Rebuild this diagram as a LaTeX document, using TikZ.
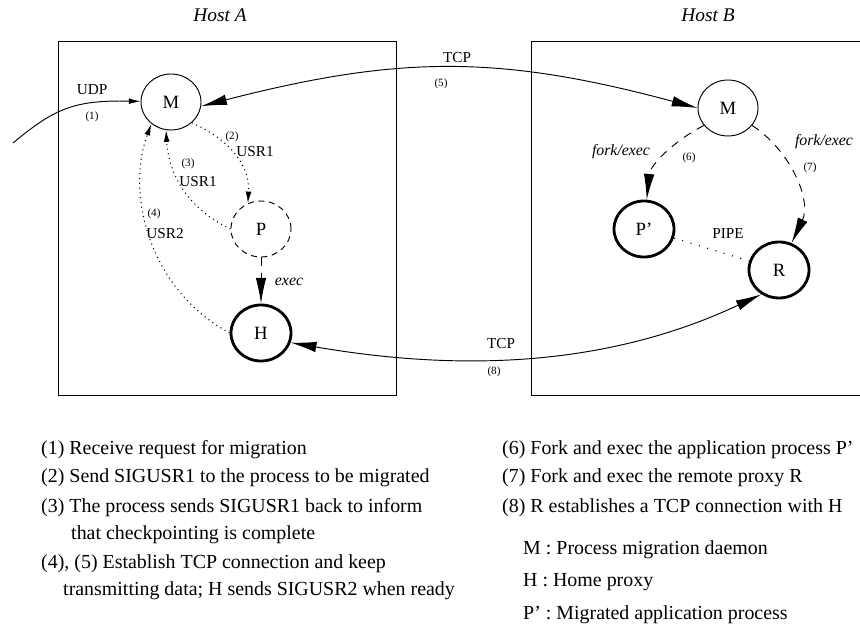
\documentclass[tikz,border=0pt]{standalone}
\usepackage{fontspec}
\setmainfont{Liberation Serif}
\usetikzlibrary{arrows.meta,shapes.geometric}

\begin{document}
\begin{tikzpicture}[x=0.03cm, y=-0.03cm,
    proc/.style={ellipse, draw, minimum width=1.8cm, minimum height=1.68cm, inner sep=0pt, font=\fontsize{16}{18}\selectfont},
    plain/.style={proc, line width=0.8pt},
    heavy/.style={proc, line width=2.4pt},
    ghost/.style={proc, line width=0.8pt, dash pattern=on 5pt off 4pt},
    lbl/.style={font=\fontsize{13}{15}\selectfont},
    num/.style={font=\fontsize{9.5}{11}\selectfont},
    act/.style={font=\fontsize{13.5}{15}\selectfont\itshape},
    host/.style={font=\fontsize{16.5}{18}\selectfont\itshape},
    legend/.style={anchor=base west, inner sep=0pt, font=\fontsize{17}{20}\selectfont},
    bigtip/.tip={Latex[length=22pt,width=9pt]},
    smalltip/.tip={Latex[length=10pt,width=5pt]},
    link/.style={line width=0.8pt},
    signal/.style={line width=0.9pt, dash pattern=on 0.9pt off 3.2pt, -smalltip},
    spawn/.style={line width=0.8pt, dash pattern=on 7pt off 6pt, -bigtip}]
    \useasboundingbox (0,0) rectangle (860,627);
    % Hosts
    \node [host] (hostA) at (220,15) {Host A};
    \node [host] (hostB) at (708,15) {Host B};
    \draw [line width=0.8pt] (58,41) rectangle (396,395);
    \draw [line width=0.8pt] (862,41) -- (531,41) -- (531,395) -- (862,395);
    % Place nodes
    \node [plain] (MA) at (171,102) {M};
    \node [ghost] (PA) at (261,229) {P};
    \node [heavy] (HA) at (261,333) {H};
    \node [plain] (MB) at (728,108) {M};
    \node [heavy] (PB) at (644,229) {P'};
    \node [heavy] (RB) at (779,270) {R};
    \coordinate (udpin) at (13,143);
    % Labels
    \node [lbl] (udplbl) at (92,90) {UDP};
    \node [num] (udpnum) at (92,117) {(1)};
    \node [lbl] (tcpAlbl) at (457,58) {TCP};
    \node [num] (tcpAnum) at (441,84) {(5)};
    \node [num] (usrAnum) at (232,137) {(2)};
    \node [lbl] (usrAlbl) at (255,152) {USR1};
    \node [num] (usrBnum) at (188,164) {(3)};
    \node [lbl] (usrBlbl) at (198,182) {USR1};
    \node [num] (usrCnum) at (154,214) {(4)};
    \node [lbl] (usrClbl) at (165,234) {USR2};
    \node [act] (execlbl) at (289,282) {exec};
    \node [act] (forkAlbl) at (621,152) {fork/exec};
    \node [num] (forkAnum) at (689,158) {(6)};
    \node [act] (forkBlbl) at (824,142) {fork/exec};
    \node [num] (forkBnum) at (810,168) {(7)};
    \node [lbl] (pipelbl) at (728,234) {PIPE};
    \node [lbl] (tcpBlbl) at (501,344) {TCP};
    \node [num] (tcpBnum) at (494,372) {(8)};
    % Connectors
    \draw [link, -smalltip] (udpin) .. controls (55,108) and (75,100) .. (MA);
    \draw [link, bigtip-bigtip] (MA.-8) .. controls (400,55) and (500,55) .. (MB.west);
    \draw [link, bigtip-bigtip] (HA.-18) .. controls (450,370) and (600,370) .. (RB.234);
    \draw [signal] (MA.-45) .. controls (230,140) and (250,165) .. (PA.117);
    \draw [signal] (PA.west) .. controls (180,205) and (168,165) .. (MA.260);
    \draw [signal] (HA.west) .. controls (150,290) and (125,195) .. (MA.228);
    \draw [spawn] (PA) -- (HA);
    \draw [spawn] (MB.216) .. controls (675,140) and (650,165) .. (PB);
    \draw [spawn] (MB.-36) .. controls (790,150) and (812,200) .. (RB.65);
    \draw [line width=0.9pt, dash pattern=on 0.9pt off 6.5pt] (PB) -- (RB);
    % Legend
    \node [legend] (leg1) at (41,455) {(1) Receive request for migration};
    \node [legend] (leg2) at (41,483) {(2) Send SIGUSR1 to the process to be migrated};
    \node [legend] (leg3) at (41,512) {(3) The process sends SIGUSR1 back to inform};
    \node [legend] (leg3b) at (71,539) {that checkpointing is complete};
    \node [legend] (leg4) at (41,568) {(4), (5) Establish TCP connection and keep};
    \node [legend] (leg4b) at (63,595) {transmitting data; H sends SIGUSR2 when ready};
    \node [legend] (leg6) at (502,455) {(6) Fork and exec the application process P'};
    \node [legend] (leg7) at (502,483) {(7) Fork and exec the remote proxy R};
    \node [legend] (leg8) at (502,512) {(8) R establishes a TCP connection with H};
    \node [legend] (keyM) at (523,554) {M : Process migration daemon};
    \node [legend] (keyH) at (523,586) {H : Home proxy};
    \node [legend] (keyP) at (523,619) {P' : Migrated application process};
\end{tikzpicture}
\end{document}
